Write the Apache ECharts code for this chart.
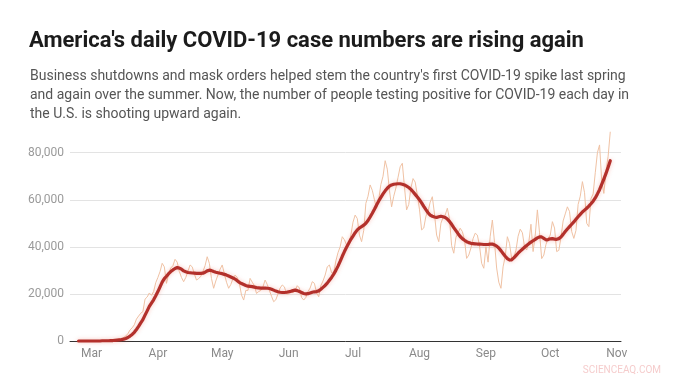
<!DOCTYPE html>
<html>
<head>
<meta charset="utf-8">
<script src="https://cdn.jsdelivr.net/npm/echarts@6/dist/echarts.min.js"></script>
<style>
html,body{margin:0;padding:0;background:#fff;}
#chart{width:679px;height:377px;}
</style>
</head>
<body>
<div id="chart"></div>
<script>
// Axis extent and series start (dates)
const axisStart = '2020-02-20';
const axisEnd = '2020-11-03';
const seriesStart = '2020-02-24';

// Month tick labels, shown at the first day of each month
const tickDates = ['2020-03-01','2020-04-01','2020-05-01','2020-06-01','2020-07-01','2020-08-01','2020-09-01','2020-10-01','2020-11-01'];
const tickLabels = ['Mar','Apr','May','Jun','Jul','Aug','Sep','Oct','Nov'];

// Y axis ticks (cases)
const yTicks = [0, 20000, 40000, 60000, 80000];

// Daily new cases, thousands, Feb 24 – Oct 29, 2020
const dailyCases = [
0,0,0,0,0,0,
0,0,0,0,0.1,0.1,0.1,0.1,0.2,0.3,
0.4,0.5,0.6,0.8,0.9,1.5,2.1,3.1,4.7,5.6,
6.9,9.3,10.6,11.8,12.5,17.8,18.7,20.4,19.4,21.0,24.8,
27.0,29.5,33.0,31.5,24.5,28.5,31.0,32.0,34.7,33.5,
29.5,27.0,25.2,27.0,29.5,32.3,31.5,28.5,25.9,26.5,
27.5,29.5,32.0,35.8,33.0,26.5,22.4,25.5,28.0,30.5,
32.3,28.5,25.0,22.4,24.0,26.5,28.0,27.0,24.5,19.5,
17.4,21.5,21.5,26.6,25.0,23.5,20.2,21.0,21.5,23.0,
25.9,24.0,21.5,19.0,16.7,17.5,20.0,22.5,23.8,23.0,20.0,
20.0,21.0,20.5,21.5,23.5,22.5,18.5,17.4,18.5,21.0,
22.5,25.2,24.5,20.5,18.8,23.5,25.5,28.0,31.5,32.3,
29.0,28.7,34.0,37.5,40.0,44.3,43.0,40.8,41.5,45.0,
50.5,53.5,52.0,45.0,42.2,47.0,58.5,61.5,66.3,64.0,
60.0,56.4,60.0,66.5,70.0,76.6,73.0,64.0,57.0,61.5,
65.0,69.5,74.0,75.5,65.5,55.7,58.0,65.0,69.0,67.5,62.0,
56.0,47.2,48.0,53.0,55.0,59.0,61.3,54.0,45.0,42.2,
50.0,52.5,53.5,56.4,52.0,40.5,37.3,44.0,46.0,47.9,
46.5,43.0,35.1,36.5,39.5,43.5,45.8,45.0,40.5,33.0,30.9,
40.0,33.5,44.5,51.4,42.0,31.0,25.0,22.4,31.5,36.0,
44.3,41.5,35.0,35.5,38.5,44.5,47.5,46.0,40.0,38.7,
42.0,49.6,38.0,45.0,55.7,46.0,35.0,36.5,41.0,43.5,
45.0,50.7,48.0,38.0,38.5,44.0,51.0,54.0,57.0,55.0,
46.5,43.6,47.0,58.0,61.5,67.7,63.0,50.0,48.6,60.5,
62.5,71.5,80.0,83.3,68.0,62.7,72.0,78.5,88.9
];

// 7-day average of new cases, thousands, Feb 24 – Oct 29, 2020
const weeklyAverage = [
0,0,0,0,0,0,
0,0,0,0,0,0.1,0.1,0.1,0.1,0.2,
0.2,0.3,0.4,0.5,0.6,0.8,1.1,1.5,2.1,2.8,
3.7,4.9,6.2,7.7,9.1,11.0,12.8,14.7,16.1,17.5,19.2,
21.0,23.0,25.0,26.5,27.5,28.6,29.5,30.2,30.8,31.2,
31.0,30.5,29.8,29.4,29.1,29.0,28.9,28.8,28.7,28.7,
28.7,28.8,29.2,29.8,30.1,29.9,29.5,29.2,29.0,28.8,
28.6,28.3,28.0,27.6,27.2,26.8,26.3,25.6,24.9,24.4,
24.0,23.6,23.3,23.2,23.1,22.9,22.7,22.6,22.5,22.5,
22.5,22.4,22.3,22.0,21.6,21.2,20.9,20.7,20.6,20.6,20.7,
20.9,21.1,21.4,21.6,21.4,21.0,20.6,20.2,20.0,20.1,
20.4,20.7,20.9,21.0,21.3,22.0,22.8,23.6,24.6,25.8,
27.0,28.4,30.0,31.8,33.8,36.0,38.0,39.8,41.5,43.2,
44.6,46.0,47.2,48.0,48.6,49.2,50.0,51.2,52.7,54.3,
56.0,57.8,59.5,61.0,62.5,63.8,64.9,65.8,66.3,66.6,
66.7,66.8,66.8,66.6,66.3,65.8,65.2,64.4,63.4,62.3,61.2,
60.0,58.7,57.2,55.8,54.5,53.5,53.0,52.7,52.5,52.8,
53.0,52.8,52.5,51.8,50.8,49.6,48.2,46.9,45.6,44.4,
43.5,42.8,42.2,41.8,41.5,41.4,41.3,41.2,41.2,41.1,41.0,
41.0,41.0,41.2,41.2,40.8,40.3,39.5,38.4,37.2,36.0,
35.0,34.4,34.5,35.3,36.3,37.3,38.2,39.0,39.8,40.6,
41.3,42.0,42.6,43.2,43.8,44.2,44.2,43.6,43.0,43.1,
43.4,43.5,43.3,43.2,43.5,44.2,45.3,46.5,47.6,48.6,
49.6,50.6,51.7,52.8,53.8,54.8,55.6,56.4,57.3,58.3,
59.4,60.8,62.5,64.3,66.5,68.8,71.2,73.8,76.6
];

// ---- build category axis (one entry per day) ----
function iso(d){ return d.toISOString().slice(0,10); }
const categories = [];
for (let d = new Date(axisStart + 'T00:00:00Z'); iso(d) <= axisEnd; d.setUTCDate(d.getUTCDate() + 1)) {
  categories.push(iso(d));
}
const offset = categories.indexOf(seriesStart);
function align(arr){
  return categories.map((c, i) => {
    const k = i - offset;
    return (k >= 0 && k < arr.length) ? arr[k] * 1000 : null;
  });
}

const chart = echarts.init(document.getElementById('chart'), null, {renderer: 'canvas'});
const font = 'Roboto, "Noto Sans", sans-serif';

chart.setOption({
  animation: false,
  backgroundColor: '#ffffff',
  title: [{
    text: "America's daily COVID-19 case numbers are rising again",
    left: 24, top: 22,
    textStyle: {fontFamily: font, fontSize: 22, fontWeight: 'bold', color: '#1b1b1b', lineHeight: 28}
  }, {
    text: "Business shutdowns and mask orders helped stem the country's first COVID-19 spike last spring\nand again over the summer. Now, the number of people testing positive for COVID-19 each day in\nthe U.S. is shooting upward again.",
    left: 25, top: 62,
    textStyle: {fontFamily: font, fontSize: 14, fontWeight: 'normal', color: '#555555', lineHeight: 19}
  }],
  graphic: [{
    type: 'text', right: 18, bottom: 2,
    style: {text: 'SCIENCEAQ.COM', fill: 'rgba(232,140,140,0.45)', fontSize: 10, fontFamily: font}
  }],
  grid: {left: 70, right: 58, top: 152.7, bottom: 36, containLabel: false},
  xAxis: {
    type: 'category',
    data: categories,
    boundaryGap: false,
    axisLine: {show: true, lineStyle: {color: '#333333', width: 1}},
    axisTick: {show: false},
    splitLine: {show: false},
    axisLabel: {
      interval: (idx, val) => tickDates.indexOf(val) >= 0,
      formatter: (val) => { const k = tickDates.indexOf(val); return k >= 0 ? tickLabels[k] : ''; },
      color: '#8a8a8a', fontSize: 12, fontFamily: font, margin: 7
    }
  },
  yAxis: {
    type: 'value',
    min: yTicks[0], max: yTicks[yTicks.length - 1], interval: yTicks[1] - yTicks[0],
    axisLine: {show: false},
    axisTick: {show: false},
    splitLine: {show: true, lineStyle: {color: '#e3e3e3', width: 1}},
    axisLabel: {
      formatter: (v) => v.toLocaleString('en-US'),
      color: '#9a9a9a', fontSize: 12, fontFamily: font, margin: 6
    }
  },
  series: [{
    name: 'Daily new cases',
    type: 'line',
    data: align(dailyCases),
    showSymbol: false,
    clip: false,
    lineStyle: {color: '#f0c2a4', width: 1},
    itemStyle: {color: '#f0c2a4'},
    z: 2
  }, {
    name: '7-day average',
    type: 'line',
    data: align(weeklyAverage),
    showSymbol: false,
    clip: false,
    lineStyle: {color: '#b3302b', width: 3.2, shadowColor: 'rgba(235,90,70,0.35)', shadowBlur: 4, cap: 'round', join: 'round'},
    itemStyle: {color: '#b3302b'},
    z: 3
  }]
});
</script>
</body>
</html>
